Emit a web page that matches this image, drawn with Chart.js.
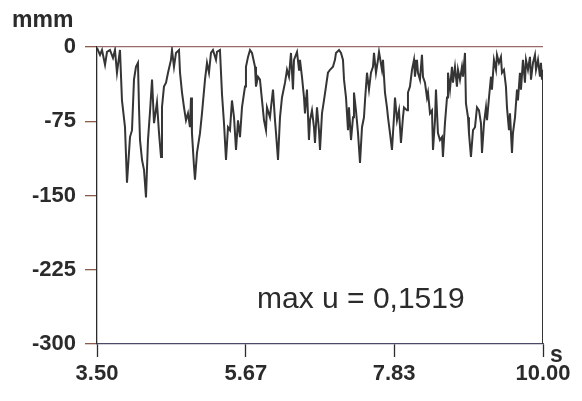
<!DOCTYPE html>
<html>
<head>
<meta charset="utf-8">
<script src="https://cdn.jsdelivr.net/npm/chart.js@4.4.1/dist/chart.umd.min.js"></script>
<style>
    html, body { margin: 0; padding: 0; background: #ffffff; }
    #wrap { width: 582px; height: 401px; }
</style>
</head>
<body>
<div id="wrap"><canvas id="chart" width="582" height="401"></canvas></div>
<script>
// time of each sample, s
var times = [
    3.500, 3.544, 3.573, 3.617, 3.646, 3.689, 3.733, 3.762, 3.791, 3.835,
    3.864, 3.908, 3.937, 3.981, 4.010, 4.039, 4.068, 4.097, 4.112, 4.127,
    4.156, 4.185, 4.214, 4.243, 4.272, 4.302, 4.331, 4.374, 4.404, 4.433,
    4.447, 4.476, 4.506, 4.535, 4.578, 4.593, 4.622, 4.651, 4.695, 4.710,
    4.739, 4.768, 4.797, 4.826, 4.855, 4.870, 4.884, 4.914, 4.928, 4.957,
    5.001, 5.030, 5.074, 5.103, 5.132, 5.161, 5.190, 5.234, 5.249, 5.292,
    5.322, 5.351, 5.380, 5.409, 5.438, 5.467, 5.497, 5.526, 5.555, 5.584,
    5.613, 5.657, 5.671, 5.701, 5.730, 5.759, 5.803, 5.817, 5.846, 5.875,
    5.905, 5.934, 5.963, 5.977, 6.021, 6.036, 6.065, 6.094, 6.109, 6.138,
    6.167, 6.196, 6.240, 6.269, 6.298, 6.327, 6.356, 6.371, 6.415, 6.444,
    6.458, 6.487, 6.517, 6.531, 6.560, 6.589, 6.604, 6.633, 6.662, 6.677,
    6.706, 6.735, 6.750, 6.779, 6.808, 6.837, 6.866, 6.896, 6.939, 6.968,
    6.983, 7.027, 7.056, 7.085, 7.100, 7.129, 7.158, 7.172, 7.202, 7.231,
    7.245, 7.274, 7.304, 7.333, 7.362, 7.391, 7.406, 7.435, 7.464, 7.493,
    7.522, 7.537, 7.566, 7.595, 7.610, 7.653, 7.668, 7.697, 7.726, 7.741,
    7.770, 7.799, 7.828, 7.843, 7.872, 7.901, 7.930, 7.959, 7.974, 8.018,
    8.032, 8.061, 8.091, 8.120, 8.134, 8.163, 8.178, 8.207, 8.236, 8.251,
    8.280, 8.309, 8.324, 8.353, 8.382, 8.397, 8.426, 8.440, 8.469, 8.498,
    8.528, 8.542, 8.571, 8.601, 8.615, 8.644, 8.673, 8.688, 8.717, 8.746,
    8.761, 8.790, 8.819, 8.834, 8.863, 8.877, 8.907, 8.921, 8.950, 8.980,
    9.009, 9.038, 9.067, 9.096, 9.111, 9.140, 9.169, 9.184, 9.213, 9.242,
    9.256, 9.285, 9.315, 9.329, 9.358, 9.387, 9.402, 9.431, 9.460, 9.475,
    9.504, 9.519, 9.548, 9.562, 9.592, 9.621, 9.635, 9.664, 9.679, 9.708,
    9.737, 9.752, 9.781, 9.810, 9.825, 9.854, 9.883, 9.898, 9.927, 9.956,
    9.970, 9.985, 10.000, 10.000
];

// displacement at each sample, mmm
var depth = [
    -1, -8, -3, -18, -5, -3, -11, -3, -26, -3,
    -54, -81, -137, -91, -84, -33, -20, -16, -61, -94,
    -114, -124, -152, -94, -66, -33, -77, -56, -87, -111,
    -61, -40, -36, -26, -13, -3, -20, -6, -3, -26,
    -46, -61, -74, -67, -81, -51, -87, -121, -134, -107,
    -87, -67, -33, -16, -26, -6, -3, -13, -5, -3,
    -48, -77, -114, -81, -84, -54, -71, -104, -74, -91,
    -61, -40, -20, -10, -3, -6, -20, -40, -30, -33,
    -54, -74, -84, -61, -71, -61, -43, -74, -87, -114,
    -71, -51, -36, -23, -30, -6, -43, -13, -5, -23,
    -13, -30, -51, -67, -43, -94, -74, -64, -81, -97,
    -61, -84, -104, -67, -54, -40, -26, -23, -20, -13,
    -6, -3, -6, -13, -33, -51, -84, -61, -94, -71,
    -46, -64, -87, -117, -81, -71, -54, -26, -43, -26,
    -20, -6, -26, -13, -5, -23, -13, -46, -61, -71,
    -87, -104, -71, -51, -74, -64, -97, -71, -61, -64,
    -46, -40, -23, -13, -30, -13, -26, -33, -8, -30,
    -36, -51, -46, -67, -64, -104, -74, -43, -87, -94,
    -91, -111, -77, -51, -26, -43, -20, -36, -20, -40,
    -23, -33, -20, -30, -6, -57, -71, -87, -111, -84,
    -81, -61, -64, -77, -107, -77, -61, -74, -51, -30,
    -43, -13, -23, -8, -16, -10, -26, -23, -40, -61,
    -84, -67, -107, -87, -71, -43, -54, -26, -43, -13,
    -36, -13, -23, -10, -33, -16, -8, -23, -13, -30,
    -16, -33, -23, -300
];

var xTicks = [3.50, 5.67, 7.83, 10.00];
var yTicks = [0, -75, -150, -225, -300];

var yUnit = "mmm";
var xUnit = "s";
var note = "max u = 0,1519";

var FONT = "'Liberation Sans', Arial, sans-serif";
var INK = "#2b2b2b";

var chart;


// unit labels and the annotation are drawn straight onto the canvas
var textPlugin = {
    id: "texts",
    afterDraw: function (c) {
        var ctx = c.ctx;
        ctx.save();
        ctx.fillStyle = INK;
        ctx.textBaseline = "alphabetic";
        ctx.textAlign = "left";

        ctx.font = "bold 23px " + FONT;
        ctx.fillText(yUnit, 12, 27);

        ctx.font = "bold 23px " + FONT;
        ctx.fillText(xUnit, 550, 362);

        ctx.font = "30px " + FONT;
        ctx.fillText(note, 257, 308);
        ctx.restore();
    }
};


function initChart() {
    var points = [];
    for (var i = 0; i < times.length; i++)
        points.push({ x: times[i], y: depth[i] });

    chart = new Chart(document.getElementById("chart"), {
        type: "line",
        data: {
            datasets: [
                {
                    data: points,
                    borderColor: "#353535",
                    borderWidth: 2,
                    pointRadius: 0,
                    tension: 0,
                    fill: false,
                }
            ]
        },
        options: {
            responsive: false,
            animation: false,
            layout: {
                padding: { left: 0, right: 39, top: 47, bottom: 0 }
            },
            plugins: {
                legend: { display: false },
                tooltip: { enabled: false }
            },
            scales: {
                x: {
                    type: "linear",
                    min: 3.5,
                    max: 10,
                    afterBuildTicks: function (scale) {
                        scale.ticks = xTicks.map(function (v) { return { value: v }; });
                    },
                    afterFit: function (scale) {
                        scale.height = 57;
                    },
                    border: { display: true, color: "#4a4a66", width: 1.3 },
                    grid: {
                        drawOnChartArea: false,
                        drawTicks: true,
                        tickLength: 13,
                        tickColor: INK,
                        tickWidth: 1.3
                    },
                    ticks: {
                        autoSkip: false,
                        maxRotation: 0,
                        padding: 4,
                        color: INK,
                        font: { family: FONT, size: 22, weight: "bold" },
                        callback: function (v) { return v.toFixed(2); }
                    }
                },
                y: {
                    min: -300,
                    max: 0,
                    afterBuildTicks: function (scale) {
                        scale.ticks = yTicks.map(function (v) { return { value: v }; });
                    },
                    afterFit: function (scale) {
                        scale.width = 97;
                    },
                    border: { display: true, color: INK, width: 1.3 },
                    grid: {
                        drawOnChartArea: true,
                        // only the zero line crosses the plot
                        color: function (ctx) {
                            return ctx.tick && ctx.tick.value === 0 ? "#9a6a6a" : "rgba(0,0,0,0)";
                        },
                        lineWidth: 1.3,
                        tickLength: 12,
                        tickColor: "#8a5a4a",
                        tickWidth: 1.3
                    },
                    ticks: {
                        padding: 9,
                        color: INK,
                        font: { family: FONT, size: 22, weight: "bold" },
                        callback: function (v) { return String(v); }
                    }
                }
            }
        },
        plugins: [textPlugin]
    });
}

initChart();
</script>
</body>
</html>
